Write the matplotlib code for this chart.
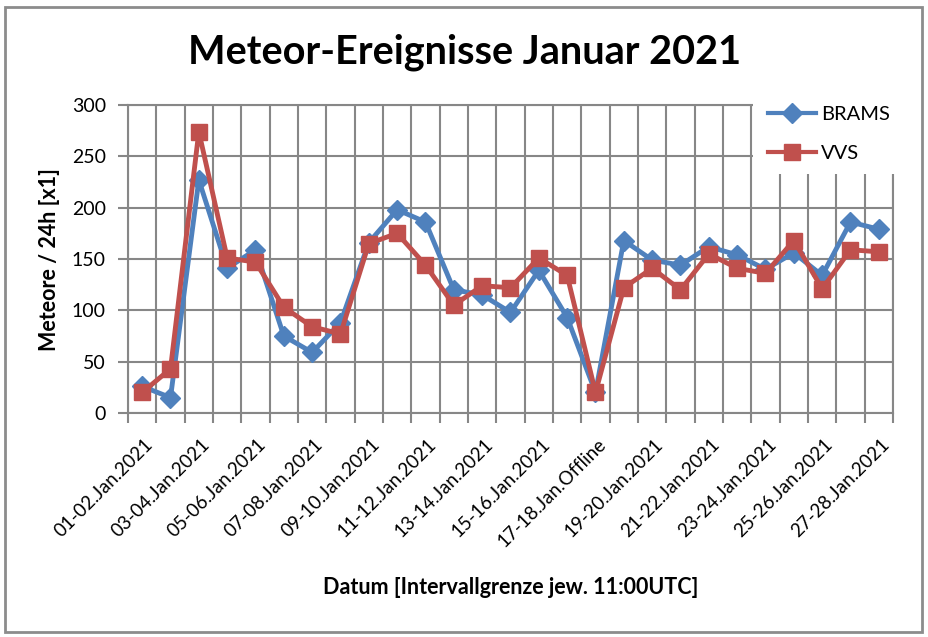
import numpy as np
import matplotlib.pyplot as plt
import matplotlib.transforms as mtransforms
from matplotlib.patches import Rectangle
from matplotlib.ticker import FixedLocator, MultipleLocator

plt.rcParams['font.family'] = ['Lato', 'DejaVu Sans']

# Intervalle (27 Tage), jeder zweite wird beschriftet
intervals = ['01-02', '02-03', '03-04', '04-05', '05-06', '06-07', '07-08', '08-09',
             '09-10', '10-11', '11-12', '12-13', '13-14', '14-15', '15-16', '16-17',
             '17-18', '18-19', '19-20', '20-21', '21-22', '22-23', '23-24', '24-25',
             '25-26', '26-27', '27-28']
labels = [s + '.Jan.2021' for s in intervals]
labels[16] = '17-18.Jan.Offline'

brams = [26, 15, 227, 141, 159, 75, 59, 88, 166, 198, 186, 120, 115, 98,
         139, 93, 20, 168, 149, 144, 162, 154, 140, 156, 134, 186, 179]
vvs = [20, 43, 274, 151, 147, 103, 84, 77, 165, 175, 144, 105, 124, 122,
       151, 134, 20, 122, 141, 120, 155, 141, 136, 168, 121, 159, 157]

blue = '#4F81BD'
red = '#C0504D'
grid_col = '#878787'

fig = plt.figure(figsize=(9.29, 6.37), dpi=100)
ax = fig.add_axes([128 / 929, 1 - 413 / 637, (893 - 128) / 929, (413 - 105) / 637])

x = np.arange(len(labels))
ax.plot(x, brams, color=blue, lw=3.5, marker='D', ms=10.5, label='BRAMS', zorder=3)
ax.plot(x, vvs, color=red, lw=3.5, marker='s', ms=12, label='VVS', zorder=4)

ax.set_xlim(-0.5, len(labels) - 0.5)
ax.set_ylim(0, 300)
ax.yaxis.set_major_locator(MultipleLocator(50))

# Beschriftung an jeder zweiten Kategorie, Teilstriche an den Grenzen
ax.xaxis.set_major_locator(FixedLocator(x[::2]))
ax.set_xticklabels(labels[::2], rotation=45, ha='right', rotation_mode='anchor')
ax.xaxis.set_minor_locator(FixedLocator(np.arange(len(labels) + 1) - 0.5))
ax.tick_params(axis='x', which='major', length=0, pad=16, labelsize=13.5)
ax.tick_params(axis='x', which='minor', length=7, width=1.5, color=grid_col, direction='out')
ax.tick_params(axis='y', length=7, width=1.5, color=grid_col, labelsize=14, pad=9)
shift = mtransforms.ScaledTranslation(2 / 100, 0, fig.dpi_scale_trans)
for lab in ax.get_xticklabels():
    lab.set_transform(lab.get_transform() + shift)

ax.grid(True, axis='x', which='minor', color=grid_col, lw=1.5)
ax.grid(True, axis='y', which='major', color=grid_col, lw=1.5)
ax.set_axisbelow(True)
for sp in ax.spines.values():
    sp.set_color(grid_col)
    sp.set_linewidth(1.5)

fig.text(50 / 929, 1 - 260 / 637, 'Meteore / 24h [x1]', rotation=90,
         ha='center', va='center', fontsize=15.5, fontweight='bold')
fig.text(511 / 929, 1 - 588 / 637, 'Datum [Intervallgrenze jew. 11:00UTC]',
         ha='center', va='center', fontsize=15.5, fontweight='bold')
fig.text(465 / 929, 1 - 52 / 637, 'Meteor-Ereignisse Januar 2021',
         ha='center', va='center', fontsize=28.5, fontweight='bold')

# weisser Legendenhintergrund, ueberdeckt die Ecke des Diagramms
ax.add_patch(Rectangle((753 / 929, 1 - 174 / 637), 152 / 929, 86 / 637,
                       transform=fig.transFigure, facecolor='white',
                       edgecolor='none', zorder=6, clip_on=False))
leg = ax.legend(loc='upper left', bbox_to_anchor=(768 / 929, 1 - 106 / 637),
                bbox_transform=fig.transFigure, frameon=False, fontsize=14.5,
                handlelength=2.4, labelspacing=1.1, handletextpad=0.25,
                borderpad=0, borderaxespad=0)
leg.set_zorder(7)
for h in leg.legend_handles:
    h.set_linewidth(3)

# Rahmen um das gesamte Diagramm
fig.patches.append(Rectangle((5 / 929, 5 / 637), 917 / 929, 625 / 637,
                             transform=fig.transFigure, facecolor='none',
                             edgecolor='#8c8c8c', lw=2))

fig.savefig('out.png', dpi=100)
